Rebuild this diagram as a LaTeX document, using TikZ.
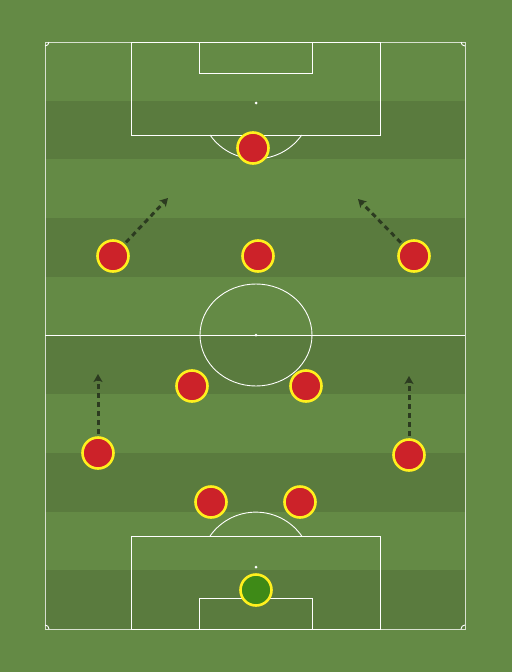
\documentclass[tikz,border=0pt]{standalone}
\usetikzlibrary{arrows.meta,positioning,calc}
\definecolor{grass}{HTML}{648A45}
\definecolor{grassdark}{HTML}{5A7B3E}
\definecolor{kitred}{HTML}{CC2229}
\definecolor{kityellow}{HTML}{FFF01E}
\definecolor{keeper}{HTML}{3E8A17}
\definecolor{runline}{HTML}{2C3B20}
\begin{document}
\begin{tikzpicture}[x=1pt,y=-1pt,line width=1pt,
  player/.style={circle,draw=kityellow,line width=2.6pt,fill=kitred,minimum size=31pt,inner sep=0pt},
  gk/.style={player,fill=keeper},
  run/.style={-{Stealth[length=8pt,width=9pt,inset=2pt]},draw=runline,line width=3pt,dash pattern=on 5pt off 4pt,shorten <=2pt},
  pitchline/.style={draw=white,line width=0.9pt}]
\useasboundingbox (0,0) rectangle (512,672);
\fill[grass] (0,0) rectangle (512,672);
% stripes
\foreach \i in {1,3,5,7,9}
  \fill[grassdark] (45,{42+\i*58.7}) rectangle (465,{42+(\i+1)*58.7});
% pitch
\draw[pitchline,draw opacity=0.75] (45,42) rectangle (465,629);
\draw[pitchline] (45,335) -- (465,335);
\draw[pitchline] (256,335) ellipse [x radius=56,y radius=51];
\fill[white] (256,335) circle (1.5);
\draw[pitchline] (131,42) rectangle (380,135);
\draw[pitchline] (199,42) rectangle (312,73);
\fill[white] (256,103) circle (1.5);
\draw[pitchline] (210,135) arc [start angle=145,end angle=35,radius=56];
\draw[pitchline] (131,629) rectangle (380,536);
\draw[pitchline] (199,629) rectangle (312,598);
\fill[white] (256,567) circle (1.5);
\draw[pitchline] (210,536) arc [start angle=215,end angle=325,radius=56];
% corners
\draw[pitchline] (49,42) arc [start angle=0,end angle=90,radius=4];
\draw[pitchline] (461,42) arc [start angle=180,end angle=90,radius=4];
\draw[pitchline] (49,629) arc [start angle=0,end angle=-90,radius=4];
\draw[pitchline] (461,629) arc [start angle=180,end angle=270,radius=4];
% players
\node[gk] (GK) at (256,590) {};
\node[player] (LCB) at (211,502) {};
\node[player] (RCB) at (300,502) {};
\node[player] (LB) at (98,453) {};
\node[player] (RB) at (409,455) {};
\node[player] (LCM) at (192,386) {};
\node[player] (RCM) at (306,386) {};
\node[player] (LW) at (113,256) {};
\node[player] (AM) at (258,256) {};
\node[player] (RW) at (414,256) {};
\node[player] (ST) at (253,148) {};
% runs
\coordinate (LWrun) at (168,198);
\coordinate (RWrun) at (358,199);
\coordinate (LBrun) at (98,374);
\coordinate (RBrun) at (409,376);
\draw[run] (LW) -- (LWrun);
\draw[run] (RW) -- (RWrun);
\draw[run] (LB) -- (LBrun);
\draw[run] (RB) -- (RBrun);
\end{tikzpicture}
\end{document}
